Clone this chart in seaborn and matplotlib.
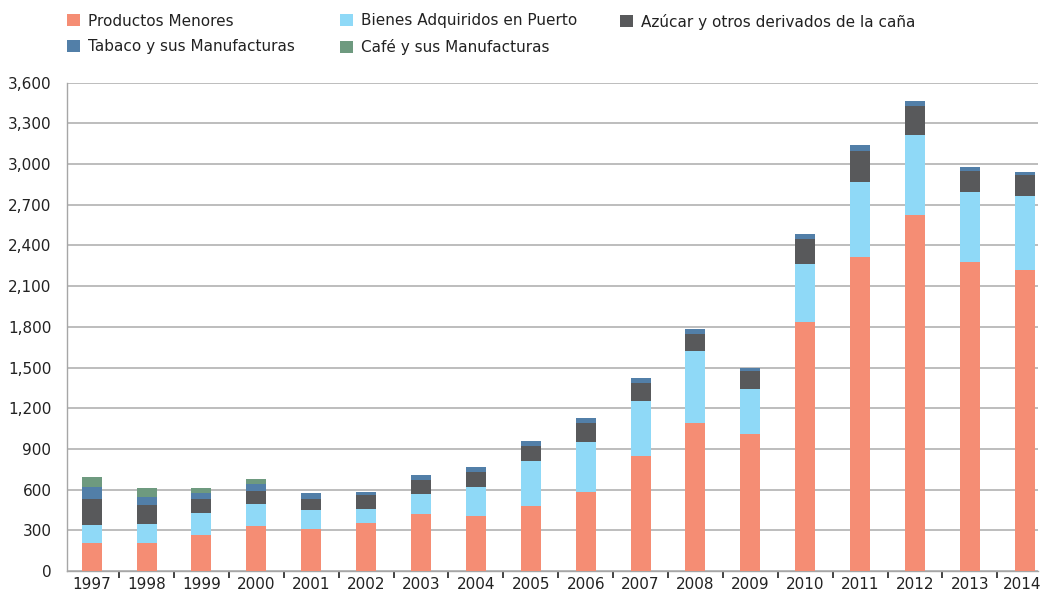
import matplotlib
matplotlib.use("Agg")
import matplotlib.pyplot as plt
from matplotlib.patches import Patch
from matplotlib.ticker import FuncFormatter, FixedLocator
import matplotlib.transforms as mtransforms
import seaborn as sns
import numpy as np
import pandas as pd

years = ["1997", "1998", "1999", "2000", "2001", "2002", "2003", "2004", "2005",
         "2006", "2007", "2008", "2009", "2010", "2011", "2012", "2013", "2014"]

productos_menores = [206, 206, 267, 333, 309, 354, 422, 408, 477, 581, 847, 1093, 1012, 1834, 2314, 2624, 2275, 2222]
bienes_puerto     = [134, 141, 157, 159, 141, 105, 148, 210, 331, 371, 403, 530, 327, 426, 557, 591, 517, 546]
azucar            = [190, 140, 106, 99, 80, 99, 104, 109, 114, 141, 133, 122, 134, 191, 224, 216, 158, 150]
tabaco            = [91, 57, 47, 51, 42, 21, 35, 43, 38, 37, 38, 38, 27, 33, 45, 37, 32, 24]
cafe              = [70, 70, 37, 35, 0, 0, 0, 0, 0, 0, 0, 0, 0, 0, 0, 0, 0, 0]

series_names = ["Productos Menores", "Bienes Adquiridos en Puerto",
                "Azúcar y otros derivados de la caña", "Tabaco y sus Manufacturas",
                "Café y sus Manufacturas"]
series_values = [productos_menores, bienes_puerto, azucar, tabaco, cafe]
colors = ["#F58D74", "#8FD9F7", "#58595B", "#527FA8", "#6E9A7F"]

y_ticks = list(range(0, 3601, 300))

sns.set_theme(style="white")
plt.rcParams["font.family"] = ["DejaVu Sans"]
plt.rcParams["text.color"] = "#222222"

W, H = 1042, 593
fig = plt.figure(figsize=(W / 100, H / 100), dpi=100)
ax_left, ax_right = 66.7, 1038
ax_bottom, ax_top = 571, 82.7
ax = fig.add_axes([ax_left / W, (H - ax_bottom) / H, (ax_right - ax_left) / W, (ax_bottom - ax_top) / H])

df = pd.DataFrame({"year": years})
bottom = np.zeros(len(years))
for name, vals, col in zip(series_names, series_values, colors):
    df[name] = vals
    sns.barplot(data=df, x="year", y=name, order=years, color=col, width=0.364,
                bottom=bottom.copy(), ax=ax, saturation=1, linewidth=0, zorder=3)
    bottom += np.array(vals, dtype=float)

ax.set_xlim(-0.455, 17.24)
ax.set_ylim(0, 3600)
ax.set_yticks(y_ticks)
ax.yaxis.set_major_formatter(FuncFormatter(lambda v, p: f"{int(v):,}"))
ax.set_xlabel("")
ax.set_ylabel("")

ax.grid(axis="y", color="#BDBDBD", linewidth=1.4, zorder=0)
ax.grid(axis="x", visible=False)
ax.set_axisbelow(True)
for s in ["top", "right"]:
    ax.spines[s].set_visible(False)
ax.spines["left"].set_color("#A6A6A6")
ax.spines["left"].set_linewidth(1.0)
ax.spines["bottom"].set_color("#A6A6A6")
ax.spines["bottom"].set_linewidth(1.0)

ax.tick_params(axis="y", length=0, pad=11, labelsize=11, labelcolor="#222222")
ax.tick_params(axis="x", which="major", length=0, pad=4, labelsize=11, labelcolor="#222222")
ax.xaxis.set_minor_locator(FixedLocator(np.arange(0.5, 17, 1.0)))
ax.tick_params(axis="x", which="minor", length=5, width=1.3, color="#333333", direction="out", bottom=True)

# keep the last year label inside the canvas
last_lbl = ax.get_xticklabels()[-1]
last_lbl.set_transform(last_lbl.get_transform() +
                       mtransforms.ScaledTranslation(-3 / 100, 0, fig.dpi_scale_trans))

handles = [Patch(facecolor=c, edgecolor="none") for c in colors]
legend_cols = [([0, 3], 67), ([1, 4], 340), ([2], 620)]
for idxs, xpix in legend_cols:
    fig.legend([handles[i] for i in idxs], [series_names[i] for i in idxs],
               loc="upper left", bbox_to_anchor=(xpix / W, 1 - 13.5 / H), ncol=1,
               frameon=False, fontsize=11, handlelength=0.85, handleheight=0.85,
               handletextpad=0.55, labelspacing=0.7, borderaxespad=0, borderpad=0)

fig.savefig("out.png", dpi=100)
